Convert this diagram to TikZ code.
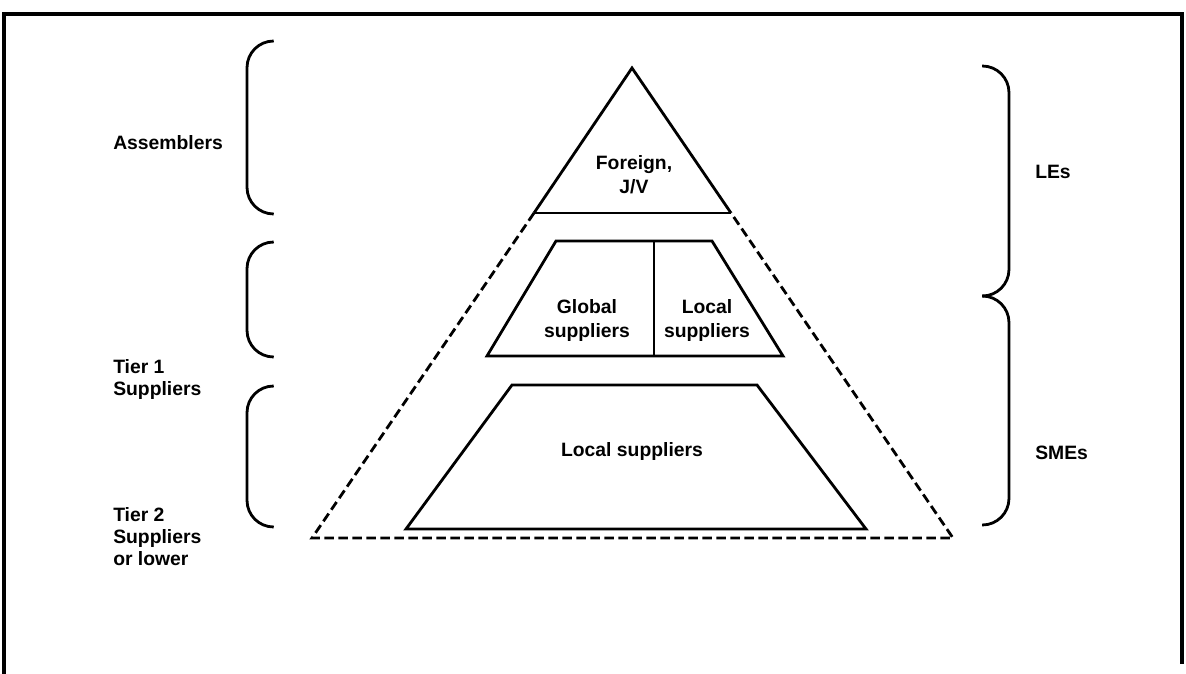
\documentclass[tikz,border=0pt]{standalone}
\usepackage{fontspec}
\setmainfont{Liberation Sans}
\begin{document}
\begin{tikzpicture}[x=0.75pt,y=-0.75pt,
  lbl/.style={font=\fontsize{14.5}{16.5}\selectfont\bfseries, inner sep=0pt, align=left},
  ctr/.style={font=\fontsize{14.5}{18}\selectfont\bfseries, inner sep=0pt, align=center},
  solidline/.style={line width=2.1pt, line join=miter},
  dashline/.style={line width=2.1pt, dash pattern=on 7pt off 3.5pt},
  brk/.style={line width=2.1pt, rounded corners=20pt}]
\useasboundingbox[fill=white] (0,0) rectangle (1186,674);
% frame
\draw[line width=2.3pt] (4,674) -- (4,14) -- (1182,14) -- (1182,664);
% pyramid coordinates
\coordinate (apex) at (632,68);
\coordinate (tl) at (534,213);
\coordinate (tr) at (731,213);
\coordinate (bl) at (312,538);
\coordinate (br) at (953,538);
\draw[solidline] (tl) -- (apex) -- (tr);
\draw[line width=1.1pt] (tl) -- (tr);
\draw[dashline] (tl) -- (bl) -- (br) -- (tr);
% middle trapezoid
\draw[solidline] (556,241) -- (712,241) -- (783,356) -- (487,356) -- cycle;
\draw[solidline] (654,241) -- (654,356);
% bottom trapezoid
\draw[solidline] (512,385) -- (757,385) -- (866,529) -- (406,529) -- cycle;
% texts in pyramid
\node[ctr] (foreign) at (634,175) {Foreign,\\J/V};
\node[ctr] (global) at (587,320) {Global\\suppliers};
\node[ctr] (localA) at (707,320) {Local\\suppliers};
\node[ctr] (localB) at (632,451) {Local suppliers};
% left brackets
\draw[brk] (273,41) -- (247,41) -- (247,214) -- (273,214);
\draw[brk] (273,242) -- (247,242) -- (247,357) -- (273,357);
\draw[brk] (273,386) -- (247,386) -- (247,527) -- (273,527);
% left labels
\node[lbl, anchor=west] (assem) at (113,143) {Assemblers};
\node[lbl, anchor=west] (tier1) at (113,379) {Tier 1\\Suppliers};
\node[lbl, anchor=west] (tier2) at (113,537) {Tier 2\\Suppliers\\or lower};
% right braces
\draw[brk] (982,66) -- (1009,66) -- (1009,296) -- (982,296);
\draw[brk] (982,296) -- (1009,296) -- (1009,525) -- (982,525);
% right labels
\node[lbl, anchor=west] (les) at (1035,172) {LEs};
\node[lbl, anchor=west] (smes) at (1035,453) {SMEs};
\end{tikzpicture}
\end{document}
